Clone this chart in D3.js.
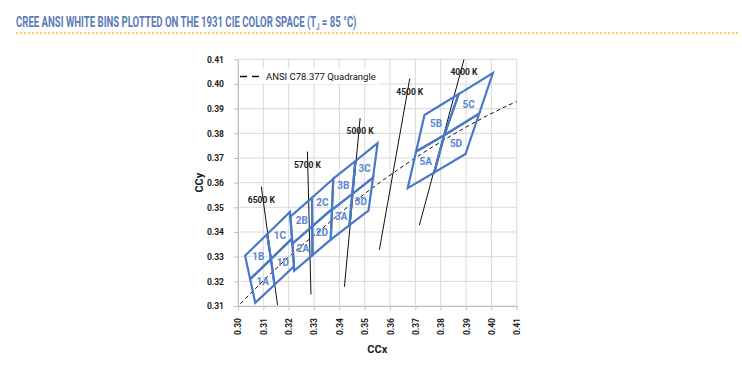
<!DOCTYPE html>
<html>
<head>
<meta charset="utf-8">
<script src="https://cdn.jsdelivr.net/npm/d3@7"></script>
<style>
  body { margin: 0; background: #fff; }
  svg text { font-family: Roboto, "Liberation Sans", sans-serif; }
</style>
</head>
<body>
<div id="chart"></div>
<script>
// tick labels
var xTicks = [0.30, 0.31, 0.32, 0.33, 0.34, 0.35, 0.36, 0.37, 0.38, 0.39, 0.40, 0.41];
var yTicks = [0.31, 0.32, 0.33, 0.34, 0.35, 0.36, 0.37, 0.38, 0.39, 0.40, 0.41];

// Cree sub-bins (x,y corners on CIE 1931)
var binNames = ["1A", "1B", "1C", "1D", "2A", "2B", "2C", "2D", "3A", "3B", "3C", "3D", "5A", "5B", "5C", "5D"];
var binCorners = [
  [[0.3048, 0.3209], [0.3130, 0.3290], [0.3144, 0.3186], [0.3068, 0.3113]],
  [[0.3028, 0.3304], [0.3115, 0.3391], [0.3130, 0.3290], [0.3048, 0.3209]],
  [[0.3115, 0.3391], [0.3205, 0.3481], [0.3213, 0.3373], [0.3130, 0.3290]],
  [[0.3130, 0.3290], [0.3213, 0.3373], [0.3221, 0.3261], [0.3144, 0.3186]],
  [[0.3215, 0.3353], [0.3293, 0.3423], [0.3294, 0.3306], [0.3222, 0.3243]],
  [[0.3207, 0.3462], [0.3292, 0.3539], [0.3293, 0.3423], [0.3215, 0.3353]],
  [[0.3292, 0.3539], [0.3376, 0.3616], [0.3371, 0.3493], [0.3293, 0.3423]],
  [[0.3293, 0.3423], [0.3371, 0.3493], [0.3366, 0.3369], [0.3294, 0.3306]],
  [[0.3371, 0.3490], [0.3451, 0.3554], [0.3440, 0.3428], [0.3366, 0.3369]],
  [[0.3376, 0.3616], [0.3463, 0.3687], [0.3451, 0.3554], [0.3371, 0.3490]],
  [[0.3463, 0.3687], [0.3551, 0.3760], [0.3533, 0.3620], [0.3451, 0.3554]],
  [[0.3451, 0.3554], [0.3533, 0.3620], [0.3515, 0.3487], [0.3440, 0.3428]],
  [[0.3703, 0.3726], [0.3814, 0.3792], [0.3775, 0.3641], [0.3670, 0.3578]],
  [[0.3736, 0.3874], [0.3871, 0.3959], [0.3814, 0.3792], [0.3703, 0.3726]],
  [[0.3871, 0.3959], [0.4006, 0.4044], [0.3952, 0.3880], [0.3814, 0.3792]],
  [[0.3814, 0.3792], [0.3952, 0.3880], [0.3898, 0.3716], [0.3775, 0.3641]]
];

// black body locus (dashed)
var planckX = [0.2952, 0.3064, 0.3135, 0.3221, 0.3325, 0.3451, 0.3608, 0.3805, 0.4053, 0.4369];
var planckY = [0.3048, 0.3166, 0.3237, 0.3318, 0.3408, 0.3516, 0.3636, 0.3768, 0.3907, 0.4041];

// CCT isotherm lines: top end -> bottom end
var isoLabels = ["6500 K", "5700 K", "5000 K", "4500 K", "4000 K"];
var isoTopX = [0.3092, 0.3274, 0.3482, 0.3678, 0.3892];
var isoTopY = [0.3584, 0.3726, 0.3862, 0.4022, 0.4100];
var isoBotX = [0.3156, 0.3288, 0.3420, 0.3558, 0.3716];
var isoBotY = [0.3104, 0.3147, 0.3178, 0.3328, 0.3428];

(function () {
var W = 742, H = 372;
var pl = 238, pt = 59.3, pr = 516.7, pb = 306;
var blue = "#4a78c8";

var svg = d3.select("#chart").append("svg")
    .attr("width", W)
    .attr("height", H);

// title
var title = svg.append("text")
    .attr("x", 0)
    .attr("y", 0)
    .attr("font-size", 15)
    .attr("font-weight", "bold")
    .attr("fill", "#5b7cb9");
title.append("tspan").text("CREE ANSI WHITE BINS PLOTTED ON THE 1931 CIE COLOR SPACE (T");
title.append("tspan").attr("font-size", 9).attr("dy", 3).text("J");
title.append("tspan").attr("dy", -3).text(" = 85 °C)");
var tw = title.node().getComputedTextLength();
title.attr("transform", "translate(16,27) scale(" + (341 / tw) + ",1)");

svg.append("line")
    .attr("x1", 16).attr("x2", 738)
    .attr("y1", 33).attr("y2", 33)
    .attr("stroke", "#f3c623")
    .attr("stroke-width", 1.6)
    .attr("stroke-dasharray", "2,2");

var x = d3.scaleLinear().domain([0.30, 0.41]).range([pl, pr]);
var y = d3.scaleLinear().domain([0.31, 0.41]).range([pb, pt]);

// grid
svg.append("g").selectAll("line")
    .data(xTicks)
    .enter().append("line")
    .attr("x1", d => x(d)).attr("x2", d => x(d))
    .attr("y1", pt).attr("y2", pb)
    .attr("stroke", "#d9d9d9");
svg.append("g").selectAll("line")
    .data(yTicks)
    .enter().append("line")
    .attr("x1", pl).attr("x2", pr)
    .attr("y1", d => y(d)).attr("y2", d => y(d))
    .attr("stroke", "#d9d9d9");

// axes
var xAxis = svg.append("g")
    .attr("transform", "translate(0," + pb + ")")
    .call(d3.axisBottom(x).tickValues(xTicks).tickFormat(d3.format(".2f")).tickSize(4).tickSizeOuter(0));
xAxis.selectAll("text")
    .attr("transform", "rotate(-90)")
    .attr("text-anchor", "end")
    .attr("x", -12)
    .attr("y", 0)
    .attr("dy", "0.35em");
var yAxis = svg.append("g")
    .attr("transform", "translate(" + pl + ",0)")
    .call(d3.axisLeft(y).tickValues(yTicks).tickFormat(d3.format(".2f")).tickSize(4).tickSizeOuter(0));
yAxis.selectAll("text").attr("x", -14);
svg.selectAll(".domain, .tick line").attr("stroke", "#bfbfbf");
svg.selectAll(".tick text")
    .attr("font-size", 8.5)
    .attr("font-weight", "bold")
    .attr("fill", "#222");

svg.append("text")
    .attr("x", (pl + pr) / 2)
    .attr("y", 353)
    .attr("text-anchor", "middle")
    .attr("font-size", 11)
    .attr("font-weight", "bold")
    .attr("fill", "#222")
    .text("CCx");
svg.append("text")
    .attr("transform", "translate(203," + ((pt + pb) / 2) + ") rotate(-90)")
    .attr("text-anchor", "middle")
    .attr("font-size", 11)
    .attr("font-weight", "bold")
    .attr("fill", "#222")
    .text("CCy");

// clip to plot
svg.append("defs").append("clipPath").attr("id", "plot")
    .append("rect")
    .attr("x", pl).attr("y", pt)
    .attr("width", pr - pl).attr("height", pb - pt);

var plot = svg.append("g").attr("clip-path", "url(#plot)");

// legend
svg.append("rect")
    .attr("x", 239).attr("y", 68)
    .attr("width", 142).attr("height", 16)
    .attr("fill", "#fff");
svg.append("line")
    .attr("x1", 240).attr("x2", 260)
    .attr("y1", 76.5).attr("y2", 76.5)
    .attr("stroke", "#111")
    .attr("stroke-width", 1.6)
    .attr("stroke-dasharray", "7,5");
svg.append("text")
    .attr("x", 266).attr("y", 80)
    .attr("font-size", 9.5)
    .attr("fill", "#111")
    .text("ANSI C78.377 Quadrangle");

// planckian locus
var locus = d3.range(planckX.length).map(i => [planckX[i], planckY[i]]);
plot.append("path")
    .datum(locus)
    .attr("d", d3.line().x(d => x(d[0])).y(d => y(d[1])).curve(d3.curveCatmullRom))
    .attr("fill", "none")
    .attr("stroke", "#111")
    .attr("stroke-width", 1)
    .attr("stroke-dasharray", "4,3");

// isotherms
var iso = isoLabels.map((t, i) => ({label: t, x1: isoTopX[i], y1: isoTopY[i], x2: isoBotX[i], y2: isoBotY[i]}));
plot.selectAll(".iso")
    .data(iso)
    .enter().append("line")
    .attr("class", "iso")
    .attr("x1", d => x(d.x1)).attr("y1", d => y(d.y1))
    .attr("x2", d => x(d.x2)).attr("y2", d => y(d.y2))
    .attr("stroke", "#111")
    .attr("stroke-width", 1);
svg.selectAll(".isoLabel")
    .data(iso)
    .enter().append("text")
    .attr("class", "isoLabel")
    .attr("x", d => x(d.x1))
    .attr("y", d => y(d.y1) + 16)
    .attr("text-anchor", "middle")
    .attr("font-size", 8.5)
    .attr("font-weight", "bold")
    .attr("fill", "#222")
    .text(d => d.label);

// bins
var bins = binNames.map((n, i) => ({name: n, pts: binCorners[i].map(p => [x(p[0]), y(p[1])])}));
plot.selectAll(".bin")
    .data(bins)
    .enter().append("polygon")
    .attr("class", "bin")
    .attr("points", d => d.pts.map(p => p.join(",")).join(" "))
    .attr("fill", "none")
    .attr("stroke", blue)
    .attr("stroke-width", 2.2)
    .attr("stroke-linejoin", "miter");
svg.selectAll(".binLabel")
    .data(bins)
    .enter().append("text")
    .attr("class", "binLabel")
    .attr("x", d => d3.polygonCentroid(d.pts)[0])
    .attr("y", d => d3.polygonCentroid(d.pts)[1])
    .attr("dy", "0.35em")
    .attr("text-anchor", "middle")
    .attr("font-size", 10)
    .attr("font-weight", "bold")
    .attr("fill", "#5b87d2")
    .text(d => d.name);
})();
</script>
</body>
</html>
